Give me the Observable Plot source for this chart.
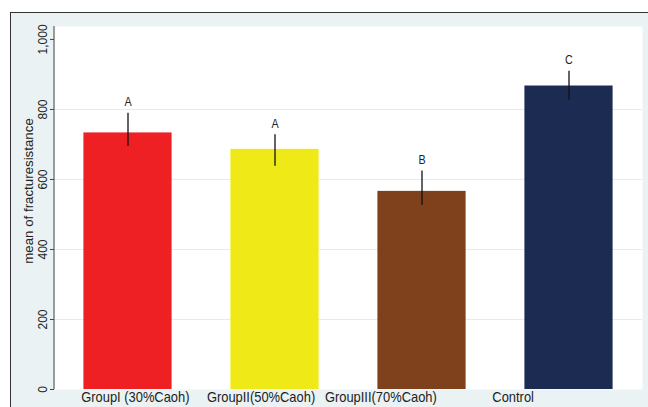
<!DOCTYPE html>
<html>
<head>
<meta charset="utf-8">
<script src="https://cdn.jsdelivr.net/npm/d3@7"></script>
<script src="https://cdn.jsdelivr.net/npm/@observablehq/plot@0.6"></script>
<style>
  html, body { margin: 0; padding: 0; background: #ffffff; }
  #wrap { position: relative; width: 648px; height: 407px; overflow: hidden; }
  #bg { position: absolute; left: 10px; top: 12px; right: 0; bottom: 0;
        background: #eaf2f3; border-left: 1.5px solid #333; border-top: 1.5px solid #333; }
  #chart { position: absolute; left: 0; top: 0; }
</style>
</head>
<body>
<div id="wrap"><div id="bg"></div><div id="chart"></div></div>
<script>
const categories = ["GroupI (30%Caoh)", "GroupII(50%Caoh)", "GroupIII(70%Caoh)", "Control"];
const means = [733, 686, 566, 867];
const errLow = [694, 638, 526, 826];
const errHigh = [789, 728, 624, 909];
const letters = ["A", "A", "B", "C"];
const colors = ["#ee2024", "#f0e918", "#7f401c", "#1c2b52"];
// category label positions, in bar-index units, as they sit in the original
const labelPositions = [0.05, 0.905, 1.72, 2.62];
const yTicks = [0, 200, 400, 600, 800, 1000];
const gridValues = [200, 400, 600, 800];
const yLabel = "mean of fracturesistance";

const barWidth = 0.6; // fraction of a category slot
const data = categories.map((c, i) => ({i, cat: c, mean: means[i], lo: errLow[i], hi: errHigh[i], letter: letters[i]}));

const plot = Plot.plot({
  width: 648,
  height: 407,
  marginLeft: 54,
  marginRight: 6,
  marginTop: 26,
  marginBottom: 18,
  style: {background: "transparent", fontFamily: "'Liberation Sans', Arial, sans-serif", color: "#222", fontSize: "13px"},
  x: {domain: [-0.5, categories.length - 0.5], label: null},
  y: {domain: [0, 1037], label: null},
  color: {type: "ordinal", domain: categories, range: colors},
  marks: [
    Plot.frame({fill: "white", stroke: "none"}),
    Plot.ruleY(gridValues, {stroke: "#e2edef", strokeWidth: 1}),
    Plot.rectY(data, {x1: d => d.i - barWidth / 2, x2: d => d.i + barWidth / 2, y: "mean", fill: "cat"}),
    Plot.ruleX(data, {x: "i", y1: "lo", y2: "hi", stroke: "#111", strokeWidth: 1.3}),
    Plot.text(data, {x: "i", y: "hi", text: "letter", dy: -11, fontSize: 12.5, fill: "#222", className: "squeeze"}),
    Plot.axisX({ticks: labelPositions, tickFormat: (d) => categories[labelPositions.indexOf(d)], tickSize: 0, tickPadding: 2, fontSize: 15, label: null, className: "squeeze"}),
    Plot.axisY({ticks: yTicks, tickFormat: d3.format(","), tickSize: 4, tickPadding: 4, tickRotate: -90, fontSize: 12, label: null, stroke: "#444"}),
    Plot.text([yLabel], {frameAnchor: "left", text: d => d, rotate: -90, textAnchor: "middle", dx: -26, dy: -17, fontSize: 13.3, fill: "#222"})
  ]
});

document.getElementById("chart").appendChild(plot);

// the original's lettering is slightly condensed horizontally
d3.select(plot).selectAll(".squeeze text").each(function() {
  const w = this.getComputedTextLength();
  if (w > 0) {
    this.setAttribute("textLength", (w * 0.86).toFixed(2));
    this.setAttribute("lengthAdjust", "spacingAndGlyphs");
  }
});

// y axis line
const ys = plot.scale("y");
const xs = plot.scale("x");
d3.select(plot).append("line")
  .attr("x1", xs.range[0]).attr("x2", xs.range[0])
  .attr("y1", ys.range[0]).attr("y2", ys.range[1])
  .attr("stroke", "#444").attr("stroke-width", 1);
</script>
</body>
</html>
